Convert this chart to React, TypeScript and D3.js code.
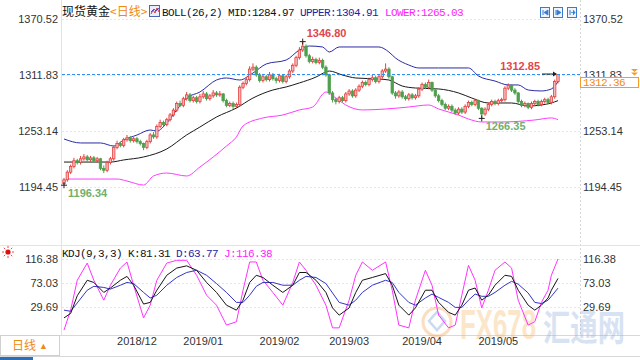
import React from "react";
import * as d3 from "d3";

const opens = [1198,1202,1210,1216,1222,1220,1224,1226,1223,1225,1222,1224,1214,1212,1220,1224,1236,1240,1238,1244,1246,1243,1245,1242,1240,1236,1242,1249,1247,1258,1262,1260,1265,1270,1275,1282,1280,1287,1291,1285,1288,1284,1289,1292,1287,1290,1293,1291,1292,1285,1280,1282,1279,1281,1299,1303,1307,1318,1320,1312,1306,1310,1307,1312,1308,1306,1311,1305,1310,1316,1322,1330,1338,1342,1332,1326,1328,1325,1327,1320,1312,1293,1286,1284,1288,1285,1292,1295,1290,1296,1300,1304,1302,1307,1309,1305,1310,1316,1318,1310,1293,1290,1294,1289,1287,1291,1288,1290,1297,1302,1299,1304,1296,1290,1285,1281,1277,1279,1275,1272,1276,1273,1279,1283,1281,1285,1277,1271,1276,1281,1284,1282,1285,1286,1298,1301,1296,1293,1284,1280,1282,1278,1282,1284,1281,1284,1286,1283,1289,1305];
const closes = [1202,1210,1216,1222,1220,1224,1226,1223,1225,1222,1224,1214,1212,1220,1224,1236,1240,1238,1244,1246,1243,1245,1242,1240,1236,1242,1249,1247,1258,1262,1260,1265,1270,1275,1282,1280,1287,1291,1285,1288,1284,1289,1292,1287,1290,1293,1291,1292,1285,1280,1282,1279,1281,1299,1303,1307,1318,1320,1312,1306,1310,1307,1312,1308,1306,1311,1305,1310,1316,1322,1330,1338,1342,1332,1326,1328,1325,1327,1320,1312,1293,1286,1284,1288,1285,1292,1295,1290,1296,1300,1304,1302,1307,1309,1305,1310,1316,1318,1310,1293,1290,1294,1289,1287,1291,1288,1290,1297,1302,1299,1304,1296,1290,1285,1281,1277,1279,1275,1272,1276,1273,1279,1283,1281,1285,1277,1271,1276,1281,1284,1282,1285,1286,1298,1301,1296,1293,1284,1280,1282,1278,1282,1284,1281,1284,1286,1283,1289,1305,1312.36];
const highs = [1204,1212,1218,1225,1224,1227,1229,1228,1227,1227,1226,1225,1217,1222,1226,1238,1243,1242,1246,1249,1248,1247,1247,1244,1241,1244,1251,1252,1260,1265,1264,1267,1272,1277,1284,1285,1289,1294,1293,1290,1290,1292,1295,1294,1292,1296,1295,1295,1293,1287,1284,1284,1283,1301,1305,1310,1321,1324,1322,1314,1313,1312,1315,1314,1310,1313,1312,1312,1318,1324,1332,1341,1346.8,1344,1334,1331,1330,1330,1329,1322,1313,1295,1288,1290,1290,1294,1297,1297,1298,1302,1306,1306,1309,1312,1311,1312,1318,1324,1320,1311,1295,1296,1296,1291,1293,1293,1292,1299,1304,1304,1307,1305,1298,1292,1287,1283,1281,1281,1277,1278,1278,1281,1285,1285,1287,1286,1278,1278,1283,1286,1286,1287,1288,1300,1303,1302,1298,1294,1286,1284,1283,1284,1286,1286,1286,1288,1288,1291,1307,1312.85];
const lows = [1196.34,1200,1208,1214,1218,1218,1222,1221,1221,1220,1220,1212,1209,1210,1218,1222,1234,1236,1236,1242,1241,1241,1240,1238,1233,1234,1240,1245,1245,1256,1258,1258,1263,1268,1273,1278,1278,1285,1283,1283,1282,1282,1287,1285,1285,1288,1289,1289,1283,1278,1278,1276,1277,1279,1297,1301,1305,1316,1310,1304,1304,1305,1305,1306,1303,1304,1303,1303,1308,1314,1320,1328,1336,1330,1324,1324,1323,1323,1318,1310,1291,1283,1281,1282,1283,1283,1290,1288,1288,1294,1298,1300,1300,1305,1303,1303,1308,1314,1308,1291,1287,1288,1287,1285,1285,1286,1286,1288,1295,1297,1297,1294,1288,1283,1279,1275,1275,1273,1270,1270,1271,1271,1277,1279,1279,1275,1266.35,1269,1274,1279,1280,1280,1283,1284,1296,1294,1291,1282,1278,1278,1276,1276,1280,1279,1279,1282,1281,1281,1287,1303];

const upperIdx = [0,5,11,15,18,22,26,28,31,34,37,41,46,49,53,57,61,67,71,74,78,80,83,95,98,100,104,107,113,122,125,130,134,137,140,144,147,149];
const upperVals = [1244.8,1240.6,1240.6,1237.4,1243.7,1248.9,1254.2,1253.1,1261.5,1275.2,1287.7,1294.0,1306.6,1308.7,1306.6,1313.9,1323.4,1327.5,1338.0,1342.2,1341.2,1335.9,1341.2,1341.2,1335.9,1329.6,1322.3,1319.2,1319.2,1319.2,1310.8,1305.5,1301.4,1301.4,1296.1,1295.1,1297.2,1304.91];
const midIdx = [0,14,18,24,31,37,41,46,52,57,63,67,71,76,79,80,84,88,95,98,102,106,113,119,123,128,135,140,144,147,149];
const midVals = [1220.6,1220.6,1222.8,1225.9,1234.3,1249.0,1257.3,1267.8,1277.2,1287.7,1296.1,1299.3,1303.5,1309.7,1315.0,1316.0,1311.8,1308.7,1307.6,1306.6,1300.3,1298.2,1297.2,1293.0,1287.7,1282.5,1282.5,1279.3,1280.4,1282.5,1284.97];
const lowerIdx = [0,1,11,16,19,24,27,31,37,41,45,49,52,54,60,66,71,75,79,82,85,90,97,104,110,113,119,122,126,132,142,147,149];
const lowerVals = [1198.6,1202.8,1202.8,1202.8,1200.7,1196.5,1206.0,1209.1,1206.0,1215.4,1225.9,1237.4,1246.9,1258.4,1266.8,1269.9,1275.2,1278.3,1294.0,1287.7,1280.4,1275.2,1276.2,1278.3,1280.4,1276.2,1269.9,1265.7,1262.6,1262.6,1264.7,1266.8,1265.03];

const kdjIdx = [0,2,4,7,9,12,14,17,19,21,24,26,28,31,34,37,40,43,46,49,52,54,56,58,60,63,66,69,71,73,76,79,81,83,86,88,90,93,97,99,101,104,106,109,111,113,116,118,120,122,124,126,128,130,133,135,137,140,142,144,146,147,149];
const kVals = [10,18,50,78,74,56,64,78,85,69,35,38,60,87,100,104,96,74,56,33,24,42,74,87,83,69,56,69,92,92,78,56,28,15,28,56,78,83,90,69,33,15,28,60,60,38,20,15,33,60,64,42,51,69,87,85,60,33,24,33,46,60,81.31];
const dVals = [24,22,37,60,67,65,62,69,74,72,56,46,51,69,83,92,96,87,72,56,38,38,51,67,74,74,69,69,78,85,83,72,55,38,33,42,56,69,78,74,56,38,33,46,53,47,38,29,29,42,53,49,49,56,69,76,71,55,38,36,42,49,63.77];
const jVals = [-12,24,78,109,78,42,69,100,111,69,10,33,78,109,114,114,87,51,33,-3,3,60,111,111,78,56,33,74,111,96,69,33,-8,-8,42,87,111,96,111,60,-3,-8,42,96,69,15,-8,-3,51,105,78,28,60,96,111,100,42,-3,3,38,60,87,116.38];

const priceTicks = [1370.52, 1311.83, 1253.14, 1194.45];
const kdjTicks = [116.38, 73.03, 29.69];
const monthLabels = ["2018/12", "2019/01", "2019/02", "2019/03", "2019/04", "2019/05"];
const monthIdx = [16, 36, 59, 80, 102, 125];
const lastPrice = 1312.36;
const annIdx = [72, 149, 126, 0];
const annKind = ["high", "high", "low", "low"];

const mono = "'Liberation Mono', 'DejaVu Sans Mono', monospace";
const cjk = "'Noto Sans CJK SC', 'Noto Sans', sans-serif";
const sans = "'Liberation Sans', Arial, sans-serif";

export default function App() {
  const n = closes.length;
  const x = d3.scaleLinear().domain([0, n - 1]).range([64, 558]);
  const y = d3.scaleLinear().domain([1194.45, 1370.52]).range([187, 19]);
  const yk = d3.scaleLinear().domain([29.69, 116.38]).range([307, 259]);

  const mk = (idx: number[], vals: number[], ys: any, curve: any) =>
    d3.line<number>().x((_, i) => x(idx[i])).y((v) => ys(v)).curve(curve)(vals) || "";

  const upPath = mk(upperIdx, upperVals, y, d3.curveMonotoneX);
  const midPath = mk(midIdx, midVals, y, d3.curveMonotoneX);
  const lowPath = mk(lowerIdx, lowerVals, y, d3.curveMonotoneX);
  const kPath = mk(kdjIdx, kVals, yk, d3.curveLinear);
  const dPath = mk(kdjIdx, dVals, yk, d3.curveLinear);
  const jPath = mk(kdjIdx, jVals, yk, d3.curveLinear);

  const candles = closes.map((c, i) => {
    const o = opens[i];
    const up = c >= o;
    const cx = x(i);
    const top = y(Math.max(o, c));
    const bot = y(Math.min(o, c));
    const col = up ? "#e5403f" : "#4e9f4e";
    return (
      <g key={i}>
        <line x1={cx} x2={cx} y1={y(highs[i])} y2={y(lows[i])} stroke={col} strokeWidth={1} />
        <rect
          x={cx - 1.2}
          y={top}
          width={2.4}
          height={Math.max(1, bot - top)}
          fill={up ? "#f6b9b9" : col}
          stroke={col}
          strokeWidth={0.8}
        />
      </g>
    );
  });

  const anns = annIdx.map((ai, k) => {
    const isHigh = annKind[k] === "high";
    const v = isHigh ? highs[ai] : lows[ai];
    const cx = x(ai);
    const cy = y(v);
    const label = v.toFixed(2);
    const col = isHigh ? "#e0474c" : "#72b06a";
    if (ai === n - 1) {
      return (
        <g key={k}>
          <line x1={cx - 16} x2={cx - 2} y1={cy} y2={cy} stroke="#222" strokeWidth={1} />
          <path d={`M${cx - 1},${cy} l-4,-2.5 l0,5 z`} fill="#222" />
          <text x={cx - 18} y={cy - 4} textAnchor="end" fontFamily={sans} fontSize={11} fontWeight="bold" fill={col}>
            {label}
          </text>
        </g>
      );
    }
    return (
      <g key={k}>
        <line x1={cx - 3} x2={cx + 3} y1={cy} y2={cy} stroke="#222" strokeWidth={1} />
        <line x1={cx} x2={cx} y1={cy - 3} y2={cy + 3} stroke="#222" strokeWidth={1} />
        <text
          x={cx + 4}
          y={isHigh ? cy - 5 : cy + 12}
          textAnchor="start"
          fontFamily={sans}
          fontSize={11}
          fontWeight="bold"
          fill={col}
        >
          {label}
        </text>
      </g>
    );
  });

  return (
    <svg
      width={640}
      height={360}
      viewBox="0 0 640 360"
      style={{ position: "absolute", left: 0, top: 0, background: "#fff" }}
      xmlns="http://www.w3.org/2000/svg"
    >
      <defs>
        <clipPath id="kclip">
          <rect x={62} y={246} width={518} height={88} />
        </clipPath>
      </defs>
      <rect x={0} y={0} width={640} height={360} fill="#fff" />

      {/* frame lines */}
      <line x1={61.5} x2={61.5} y1={0} y2={335} stroke="#e2e2e2" />
      <line x1={580.5} x2={580.5} y1={0} y2={335} stroke="#d6d6d6" strokeDasharray="2,2" />
      <line x1={0} x2={640} y1={245.5} y2={245.5} stroke="#e4e4e4" />
      <line x1={0} x2={640} y1={335.5} y2={335.5} stroke="#d8d8d8" />

      {/* grid */}
      {priceTicks.map((t, i) => (
        <line key={"pg" + i} x1={62} x2={580} y1={Math.round(y(t)) + 0.5} y2={Math.round(y(t)) + 0.5} stroke="#e6e6e6" strokeDasharray="2,2" />
      ))}
      {kdjTicks.map((t, i) => (
        <line key={"kg" + i} x1={62} x2={580} y1={Math.round(yk(t)) + 0.5} y2={Math.round(yk(t)) + 0.5} stroke="#e6e6e6" strokeDasharray="2,2" />
      ))}

      {/* watermark */}
      <g opacity={0.35}>
        <circle cx={437} cy={322} r={14} fill="none" stroke="#f5a04a" strokeWidth={3} />
        <path d="M437,312 l8,9 l-8,9 l-8,-9 z" fill="none" stroke="#6d9bd4" strokeWidth={2.5} />
        <text x={460} y={339} fontFamily={sans} fontWeight="bold" fontSize={42} fill="#f7b869" textLength={76} lengthAdjust="spacingAndGlyphs">
          FX678
        </text>
        <text x={543} y={341} fontFamily={cjk} fontWeight="bold" fontSize={36} fill="#8fb0dc" textLength={82} lengthAdjust="spacingAndGlyphs">
          汇通网
        </text>
      </g>

      {/* bands */}
      <path d={upPath} fill="none" stroke="#2b2ba6" strokeWidth={1} />
      <path d={midPath} fill="none" stroke="#1a1a1a" strokeWidth={1} />
      <path d={lowPath} fill="none" stroke="#ff3cff" strokeWidth={1} />

      {/* candles */}
      {candles}

      {/* current price dashed */}
      <line x1={62} x2={580} y1={y(lastPrice)} y2={y(lastPrice)} stroke="#2b8ff0" strokeDasharray="3,2" strokeWidth={1} />

      {anns}

      {/* left axis labels */}
      {priceTicks.map((t, i) => (
        <text key={"pl" + i} x={58} y={y(t) + 4} textAnchor="end" fontFamily={sans} fontSize={11} fill="#333">
          {t.toFixed(2)}
        </text>
      ))}
      {kdjTicks.map((t, i) => (
        <text key={"kl" + i} x={58} y={yk(t) + 4} textAnchor="end" fontFamily={sans} fontSize={11} fill="#333">
          {t.toFixed(2)}
        </text>
      ))}
      {/* right axis labels */}
      {priceTicks.map((t, i) => (
        <text key={"pr" + i} x={583} y={y(t) + 4} textAnchor="start" fontFamily={sans} fontSize={11} fill="#333">
          {t.toFixed(2)}
        </text>
      ))}
      {kdjTicks.map((t, i) => (
        <text key={"kr" + i} x={583} y={yk(t) + 4} textAnchor="start" fontFamily={sans} fontSize={11} fill="#333">
          {t.toFixed(2)}
        </text>
      ))}

      {/* last price box */}
      <rect x={580.5} y={77.5} width={58} height={10} fill="#fff" stroke="#f59a2c" strokeWidth={1} />
      <text x={583} y={86} fontFamily={mono} fontSize={11} letterSpacing={-0.6} fill="#f08a10">
        {lastPrice.toFixed(2)}
      </text>
      <path d="M631,69 h7 l-3.5,3 z M631,72.5 h7 l-3.5,3 z" fill="#f39a2a" />

      {/* top-right buttons */}
      {[540, 553, 567].map((bx, i) => (
        <g key={"b" + i}>
          <rect x={bx + 0.5} y={7.5} width={9} height={10} fill="#eef4fc" stroke="#3a7ad0" />
          <line x1={bx + 3} x2={bx + 3} y1={10} y2={15} stroke="#3a7ad0" />
          <path d={i === 0 ? `M${bx + 8},10 l-4,2.5 l4,2.5 z` : i === 1 ? `M${bx + 4},10 l4,2.5 l-4,2.5 z` : `M${bx + 4},12.5 h4 M${bx + 6},10 l2,2.5 l-2,2.5`} fill="#3a7ad0" stroke="#3a7ad0" strokeWidth={0.8} />
        </g>
      ))}

      {/* main legend */}
      <text x={62} y={16} fontFamily={cjk} fontSize={12} fill="#111">现货黄金</text>
      <text x={110} y={16} fontFamily={cjk} fontSize={12} fill="#f08a10">&lt;日线&gt;</text>
      <rect x={149.5} y={5.5} width={10} height={11} fill="#e9eefb" stroke="#4b66b8" />
      <path d="M151,14 l2,-4 l2,3 l2,-5 l2,4" fill="none" stroke="#d33" strokeWidth={1} />
      <path d="M151,12 l3,-3 l2,2 l3,-3" fill="none" stroke="#33b" strokeWidth={0.8} />
      <text y={16} fontFamily={mono} fontSize={11} letterSpacing={-0.6}>
        <tspan x={162} fill="#111">BOLL(26,2) MID:1284.97</tspan>
        <tspan x={300} fill="#2222a8">UPPER:1304.91</tspan>
        <tspan x={385} fill="#ff22ff">LOWER:1265.03</tspan>
      </text>

      {/* KDJ */}
      <g clipPath="url(#kclip)">
        <path d={jPath} fill="none" stroke="#ff33ff" strokeWidth={1} />
        <path d={dPath} fill="none" stroke="#3434c8" strokeWidth={1} />
        <path d={kPath} fill="none" stroke="#151515" strokeWidth={1} />
      </g>
      <g>
        <circle cx={8} cy={252} r={2.6} fill="#d11" />
        {d3.range(8).map((k) => {
          const a = (k * Math.PI) / 4;
          return (
            <line key={"r" + k} x1={8 + Math.cos(a) * 4} y1={252 + Math.sin(a) * 4} x2={8 + Math.cos(a) * 6} y2={252 + Math.sin(a) * 6} stroke="#e33" strokeWidth={0.9} />
          );
        })}
      </g>
      <text y={256.5} fontFamily={mono} fontSize={11} letterSpacing={-0.6}>
        <tspan x={62} fill="#111">KDJ(9,3,3) K:81.31</tspan>
        <tspan x={176} fill="#2222a8">D:63.77</tspan>
        <tspan x={224} fill="#ff22ff">J:116.38</tspan>
      </text>

      {/* x axis */}
      {monthLabels.map((m, i) => (
        <text key={"m" + i} x={x(monthIdx[i])} y={345} fontFamily={sans} fontSize={11} fill="#333">
          {m}
        </text>
      ))}
      <rect x={0.5} y={335.5} width={59} height={20} fill="#fff" stroke="#d0d0d0" />
      <text x={12} y={350} fontFamily={cjk} fontSize={12} fill="#f08a10">日线</text>
      <text x={39} y={349} fontFamily={sans} fontSize={9} fill="#f08a10">▲</text>
      <line x1={0} x2={640} y1={356.5} y2={356.5} stroke="#d8d8d8" />
      <rect x={0} y={357} width={33} height={3} fill="#2f6db5" />
    </svg>
  );
}
